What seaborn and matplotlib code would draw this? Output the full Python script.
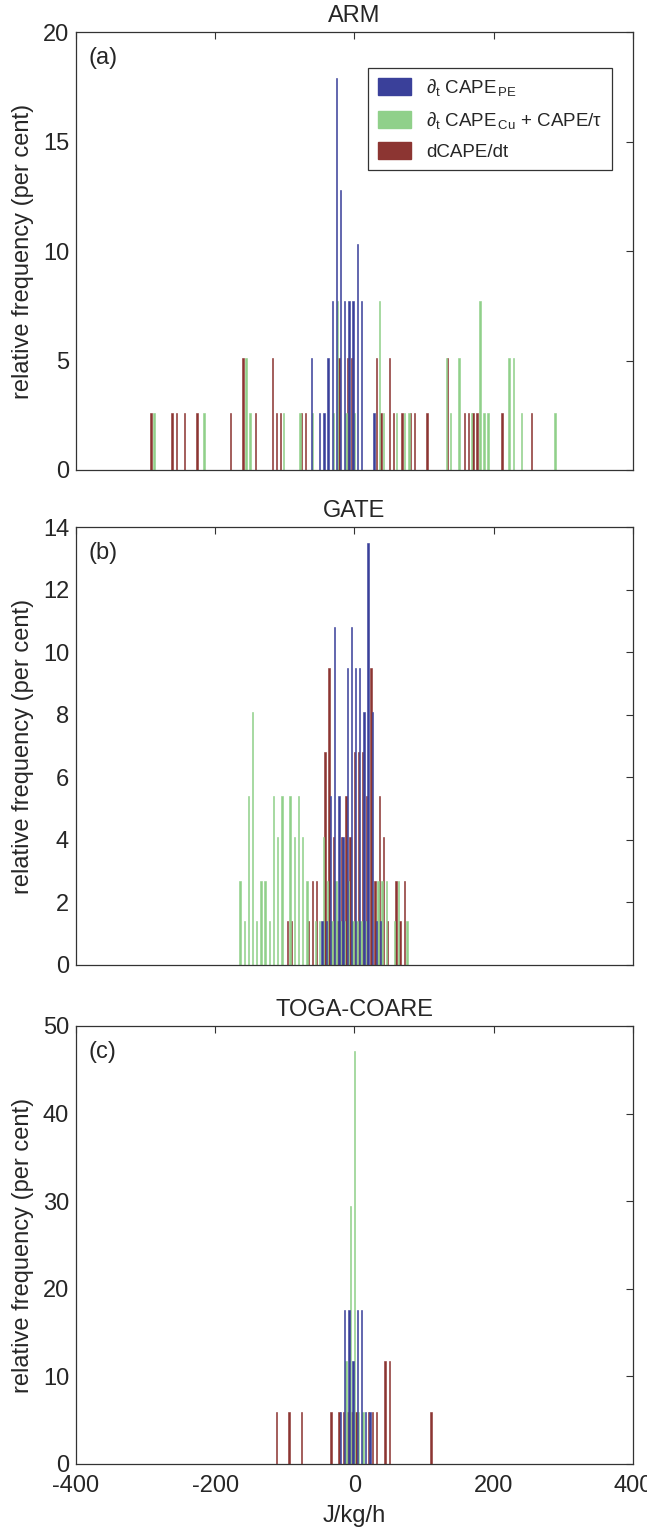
import numpy as np
import pandas as pd
import matplotlib
matplotlib.use("Agg")
import matplotlib.pyplot as plt
from matplotlib.patches import Patch
import seaborn as sns

# === Series (legend labels) and colours
series = [r"$\partial_{\mathrm{t}}$ CAPE$_{\,\mathrm{PE}}$",
          r"$\partial_{\mathrm{t}}$ CAPE$_{\,\mathrm{Cu}}$ + CAPE/$\tau$",
          "dCAPE/dt"]
colors = ["#3a409a", "#90d08a", "#8c3532"]

# === ARM: bin centre [J/kg/h] and relative frequency [per cent]
arm_pe_x = [-60, -48, -42, -36, -30, -24, -18, -12, -6, 0, 6, 12, 30]
arm_pe_y = [5.1, 2.6, 2.6, 5.1, 7.7, 17.9, 12.8, 7.7, 7.7, 7.7, 10.3, 7.7, 2.6]
arm_cu_x = [-288, -216, -156, -150, -102, -78, -60, -30, -24, -12, 0, 36, 42, 60,
            72, 78, 132, 138, 150, 168, 180, 186, 192, 222, 228, 240, 288]
arm_cu_y = [2.6, 2.6, 5.1, 2.6, 2.6, 2.6, 2.6, 2.6, 7.7, 2.6, 2.6, 7.7, 2.6, 2.6,
            2.6, 2.6, 5.1, 2.6, 5.1, 2.6, 7.7, 2.6, 2.6, 5.1, 5.1, 2.6, 2.6]
arm_dt_x = [-294, -264, -258, -246, -228, -180, -162, -144, -120, -114, -108, -78,
            -72, -24, -12, -6, 30, 36, 48, 54, 66, 78, 84, 102, 132, 156, 162, 168,
            174, 210, 252]
arm_dt_y = [2.6, 2.6, 2.6, 2.6, 2.6, 2.6, 5.1, 2.6, 5.1, 2.6, 2.6, 2.6,
            2.6, 5.1, 5.1, 5.1, 5.1, 2.6, 5.1, 2.6, 2.6, 2.6, 2.6, 2.6, 5.1, 2.6, 2.6, 2.6,
            2.6, 2.6, 2.6]

# === GATE
gate_pe_x = [-44.4, -38.4, -32.4, -26.4, -20.4, -14.4, -8.4, -2.4, 3.6, 9.6, 15.6,
             21.6, 27.6, 33.6, 39.6]
gate_pe_y = [1.4, 1.4, 5.4, 10.8, 5.4, 4.1, 9.5, 10.8, 9.5, 9.5, 8.1, 13.5, 8.1, 1.4, 1.4]
gate_cu_x = [-164.4, -158.4, -152.4, -146.4, -140.4, -134.4, -128.4, -122.4, -116.4,
             -110.4, -104.4, -92.4, -86.4, -80.4, -74.4, -68.4, -56.4, -50.4, -44.4,
             -38.4, -32.4, -26.4, -20.4, -14.4, -8.4, -2.4, 3.6, 9.6, 15.6, 33.6,
             39.6, 45.6, 57.6, 63.6, 75.6]
gate_cu_y = [2.7, 1.4, 5.4, 8.1, 1.4, 2.7, 2.7, 1.4, 5.4, 4.1, 5.4, 5.4, 4.1, 5.4, 4.1,
             2.7, 1.4, 1.4, 4.1, 2.7, 1.4, 2.7, 1.4, 1.4, 2.7, 1.4, 1.4, 1.4, 1.4, 2.7,
             2.7, 2.7, 1.4, 2.7, 1.4]
gate_dt_x = [-98.4, -92.4, -68.4, -62.4, -56.4, -44.4, -38.4, -32.4, -26.4, -20.4,
             -14.4, -8.4, -2.4, 3.6, 9.6, 15.6, 21.6, 27.6, 33.6, 39.6, 45.6, 57.6,
             63.6, 69.6]
gate_dt_y = [1.4, 1.4, 1.4, 2.7, 2.7, 6.8, 9.5, 4.1, 1.4, 4.1, 5.4, 4.1, 6.8, 6.8,
             6.8, 5.4, 9.5, 2.7, 5.4, 4.1, 1.4, 2.7, 1.4, 2.7]

# === TOGA-COARE
toga_pe_x = [-18, -12, -6, 0, 6, 12, 18, 24]
toga_pe_y = [5.9, 17.6, 17.6, 11.8, 17.6, 17.6, 5.9, 5.9]
toga_cu_x = [-12, -6, 0, 6, 12]
toga_cu_y = [11.8, 29.4, 47.1, 5.9, 5.9]
toga_dt_x = [-114, -96, -78, -36, -24, -18, -12, -6, 0, 18, 24, 30, 42, 48, 108]
toga_dt_y = [5.9, 5.9, 5.9, 5.9, 5.9, 5.9, 5.9, 5.9, 5.9, 5.9, 5.9, 5.9, 11.8, 11.8, 5.9]

titles = ["ARM", "GATE", "TOGA-COARE"]
tags = ["(a)", "(b)", "(c)"]
ymax = [20, 14, 50]
ystep = [5, 2, 10]
x_ticks = [-400, -200, 0, 200, 400]

# histogram bins: 6 J/kg/h wide, range per case
bin_width = 6
bin_ranges = [(-297, 303), (-293.4, 306.6), (-297, 303)]

panels = [
    [(arm_pe_x, arm_pe_y), (arm_cu_x, arm_cu_y), (arm_dt_x, arm_dt_y)],
    [(gate_pe_x, gate_pe_y), (gate_cu_x, gate_cu_y), (gate_dt_x, gate_dt_y)],
    [(toga_pe_x, toga_pe_y), (toga_cu_x, toga_cu_y), (toga_dt_x, toga_dt_y)],
]

# === Style
sns.set_style("white")
plt.rcParams["font.family"] = ["Liberation Sans", "DejaVu Sans"]
plt.rcParams["mathtext.fontset"] = "custom"
plt.rcParams["mathtext.rm"] = "Liberation Sans"
plt.rcParams["mathtext.it"] = "Liberation Sans"
plt.rcParams["axes.unicode_minus"] = False
plt.rcParams["font.size"] = 17
text_col = "#262626"

fig = plt.figure(figsize=(6.47, 15.35), dpi=100)
ax_h = 438 / 1535
bottoms = [1 - 470 / 1535, 1 - 965 / 1535, 1 - 1464 / 1535]

for i, parts in enumerate(panels):
    ax = fig.add_axes([76 / 647, bottoms[i], 557 / 647, ax_h])
    frames = [pd.DataFrame({"x": xs, "pct": ys, "series": name})
              for name, (xs, ys) in zip(series, parts)]
    df = pd.concat(frames, ignore_index=True)

    sns.histplot(data=df, x="x", weights="pct", hue="series", hue_order=series,
                 palette=colors, binwidth=bin_width, binrange=bin_ranges[i],
                 multiple="dodge", shrink=1.0, alpha=1, linewidth=0,
                 legend=False, ax=ax)
    for p in ax.patches:
        p.set_edgecolor(p.get_facecolor())
        p.set_linewidth(0.4)

    ax.set_xlim(-400, 400)
    ax.set_ylim(0, ymax[i])
    ax.set_xticks(x_ticks)
    ax.set_yticks(np.arange(0, ymax[i] + 1, ystep[i]))
    ax.tick_params(direction="in", top=True, right=True, length=5, width=0.8,
                   colors="#333333", labelcolor=text_col, labelsize=17, pad=5)
    ax.tick_params(axis="x", pad=8)
    for s in ax.spines.values():
        s.set_visible(True)
        s.set_color("#333333")
        s.set_linewidth(0.9)
    ax.set_ylabel("relative frequency (per cent)", fontsize=17, color=text_col, labelpad=6)
    ax.set_title(titles[i], fontsize=17, color=text_col, pad=7)
    ax.text(0.023, 0.94, tags[i], transform=ax.transAxes, va="center", ha="left",
            fontsize=17, color=text_col)
    if i < 2:
        ax.tick_params(labelbottom=False)
        ax.set_xlabel("")
    else:
        ax.set_xlabel("J/kg/h", fontsize=17, color=text_col, labelpad=6)

    if i == 0:
        handles = [Patch(facecolor=c, edgecolor=c) for c in colors]
        leg = ax.legend(handles, series, loc="upper right", bbox_to_anchor=(0.962, 0.918),
                        borderaxespad=0, fontsize=13.5, frameon=True, fancybox=False,
                        framealpha=1, edgecolor="#333333", handlelength=1.8,
                        handleheight=1.0, labelspacing=0.6, borderpad=0.5,
                        handletextpad=0.8)
        leg.get_frame().set_linewidth(0.9)
        for t in leg.get_texts():
            t.set_color(text_col)

fig.savefig("out.png", dpi=100)
